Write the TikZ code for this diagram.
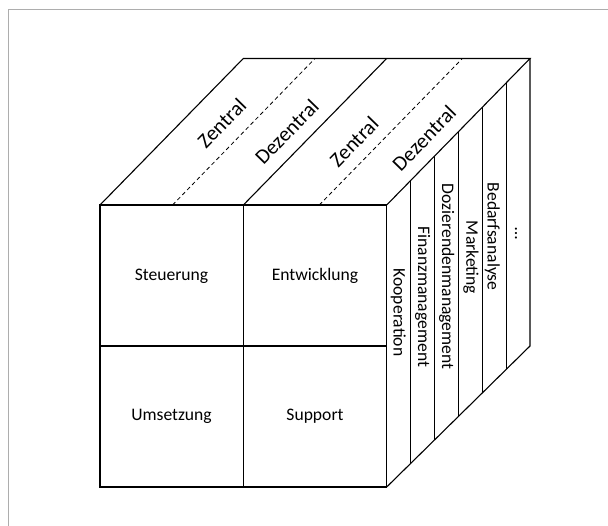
\documentclass[tikz,border=0pt]{standalone}
\usepackage{fontspec}
\setmainfont{Carlito}
\usetikzlibrary{calc}
\begin{document}
\begin{tikzpicture}[x=1pt,y=-1pt,line join=miter,
  edge/.style={draw=black,line width=1.1pt},
  dashdiv/.style={draw=black,line width=0.8pt,dash pattern=on 4pt off 3pt},
  lbl/.style={font=\fontsize{17.6}{20}\selectfont,inner sep=0pt},
  toplbl/.style={font=\fontsize{21}{24}\selectfont,inner sep=0pt,rotate=45.7},
  frameline/.style={draw=black!32,line width=1.4pt}]
\useasboundingbox (0,0) rectangle (608,526);
\draw[frameline] (8.5,530) -- (8.5,9.5) -- (612,9.5);
% cube corners
\coordinate (A) at (100,205);
\coordinate (B) at (386.7,205);
\coordinate (C) at (386.7,487);
\coordinate (D) at (100,487);
\coordinate (E) at (243.3,58.5);
\coordinate (F) at (530,58.5);
\coordinate (G) at (530,346);
% front face
\draw[edge] (A) -- (B) -- (C) -- (D) -- cycle;
\draw[edge] ($(A)!0.5!(B)$) -- ($(D)!0.5!(C)$);
\draw[edge] ($(A)!0.5!(D)$) -- ($(B)!0.5!(C)$);
% top face
\draw[edge] (A) -- (E) -- (F) -- (B);
\draw[edge] ($(A)!0.5!(B)$) -- ($(E)!0.5!(F)$);
\draw[dashdiv] ($(A)!0.253!(B)$) -- ($(E)!0.25!(F)$);
\draw[dashdiv] ($(A)!0.765!(B)$) -- ($(E)!0.764!(F)$);
% right face
\draw[edge] (F) -- (G) -- (C);
\foreach \k in {1,...,5}
  \draw[edge] ($(B)!\k/6!(F)$) -- ($(C)!\k/6!(G)$);
% front labels
\node[lbl] (steu) at (171.5,276) {Steuerung};
\node[lbl] (entw) at (315,276) {Entwicklung};
\node[lbl] (umse) at (171.5,416.5) {Umsetzung};
\node[lbl] (supp) at (315,416.5) {Support};
% top labels
\node[toplbl] (z1) at (221.7,123.3) {Zentral};
\node[toplbl] (d1) at (286.7,131.7) {Dezentral};
\node[toplbl] (z2) at (354,141.7) {Zentral};
\node[toplbl] (d2) at (424,138.3) {Dezentral};
% right labels
\node[lbl,rotate=-90] (koop) at (398.3,312.5) {Kooperation};
\node[lbl,rotate=-90] (fina) at (422.7,296.7) {Finanzmanagement};
\node[lbl,rotate=-90] (dozi) at (446.7,276.7) {Dozierendenmanagement};
\node[lbl,rotate=-90] (mark) at (471,257.5) {Marketing};
\node[lbl,rotate=-90] (beda) at (492.3,236.7) {Bedarfsanalyse};
\node[lbl,rotate=-90] (more) at (516,233.3) {…};
\end{tikzpicture}
\end{document}
